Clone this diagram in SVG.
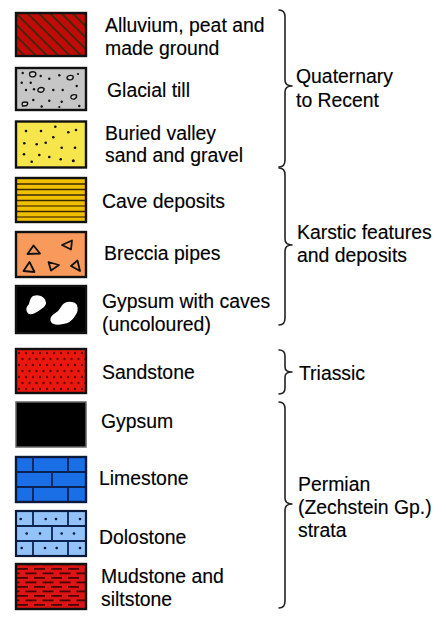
<svg xmlns="http://www.w3.org/2000/svg" width="446" height="618" viewBox="0 0 446 618">
<style>
.t{font-family:"Liberation Sans",Arial,sans-serif;font-size:19.4px;fill:#000;stroke:#000;stroke-width:0.15}
.box{stroke:#111;stroke-width:2.4}
.br{fill:none;stroke:#222;stroke-width:1.6;stroke-linejoin:round;stroke-linecap:round}
.dot{fill:#111}
.peb{fill:#d4d4d4;stroke:#111;stroke-width:1.4}
.tri{fill:none;stroke:#111;stroke-width:1.8;stroke-linejoin:round}
.brick{fill:none;stroke:#0b2350;stroke-width:1.8}
</style>
<defs>
<pattern id="stripes" width="8" height="8" patternUnits="userSpaceOnUse" patternTransform="rotate(-45)">
<line x1="2" y1="0" x2="2" y2="8" stroke="#4a2608" stroke-width="2"/>
</pattern>
<pattern id="sanddots" width="7" height="12" patternUnits="userSpaceOnUse" x="17" y="350">
<circle cx="2" cy="3" r="1.2" fill="#6a0000"/>
<circle cx="5.5" cy="9" r="1.2" fill="#6a0000"/>
</pattern>
<pattern id="mud" width="17" height="9" patternUnits="userSpaceOnUse" x="17" y="566">
<rect x="0" y="2" width="11" height="1.8" fill="#4a0404"/>
<rect x="8.5" y="6.5" width="8.5" height="1.8" fill="#4a0404"/>
<rect x="0" y="6.5" width="2.5" height="1.8" fill="#4a0404"/>
</pattern>
</defs>

<g id="alluvium">
<rect x="16" y="13" width="70" height="43" fill="#c20a08"/>
<rect x="16" y="13" width="70" height="43" fill="url(#stripes)"/>
<rect class="box" x="16" y="13" width="70" height="43" fill="none"/>
<text class="t" x="105" y="32">Alluvium, peat and</text>
<text class="t" x="105" y="55">made ground</text>
</g>

<g id="glacial-till">
<rect class="box" x="16" y="68" width="70" height="42" fill="#c6c6c6"/>
<g class="dot">
<circle cx="22.7" cy="73" r="1.2"/><circle cx="40.7" cy="76" r="1.2"/><circle cx="49.3" cy="78.7" r="1.2"/><circle cx="59.3" cy="75.3" r="1.2"/><circle cx="78" cy="74" r="1.1"/>
<circle cx="21.7" cy="82.7" r="1.2"/><circle cx="30.7" cy="82.7" r="1.2"/><circle cx="26" cy="90" r="1.2"/><circle cx="34" cy="89.3" r="1.2"/><circle cx="53.3" cy="90" r="1.2"/><circle cx="62.7" cy="90" r="1.2"/><circle cx="76.7" cy="86" r="1.2"/>
<circle cx="33.3" cy="100" r="1.2"/><circle cx="41.7" cy="106.5" r="1.2"/><circle cx="49.3" cy="100.7" r="1.2"/><circle cx="61.7" cy="101.7" r="1.2"/><circle cx="59.3" cy="107" r="1.1"/><circle cx="79.3" cy="106" r="1.2"/>
</g>
<path class="peb" d="M30 72.5 q3-1.5 5.5 0 q1 2.5-1 4 q-3 1-4.5-0.5 q-1-2 0-3.5z"/>
<path class="peb" d="M67.5 76.5 q3-2 5.5-0.5 q0.8 2.5-1.5 3.6 q-3 0.8-4.3-0.8 q-0.4-1.5 0.3-2.3z"/>
<path class="peb" d="M38.5 88.5 q3-2 5.5 0 q0.5 2.5-2 3.6 q-3 0.5-4-1 q-0.3-1.6 0.5-2.6z"/>
<path class="peb" d="M71.5 95.5 q3-1.5 5-0.3 q0.6 2.8-2 3.8 q-3 0.6-3.6-1.2 q-0.2-1.4 0.6-2.3z"/>
<path class="peb" d="M22.5 102.5 q3-1 5 0 q0.6 2.5-1.5 3.3 l-3.5 0.2 q-0.8-1.8 0-3.5z"/>
<text class="t" x="107" y="97">Glacial till</text>
</g>

<g id="buried-valley">
<rect class="box" x="16" y="121.5" width="70" height="46" fill="#f6e64c"/>
<g class="dot">
<circle cx="26" cy="131" r="1.3"/><circle cx="41" cy="131" r="1.3"/><circle cx="55.3" cy="126.7" r="1.3"/><circle cx="68.3" cy="132.3" r="1.3"/><circle cx="76" cy="130" r="1.3"/>
<circle cx="24.3" cy="143.3" r="1.3"/><circle cx="36.7" cy="144.3" r="1.3"/><circle cx="45.7" cy="142.7" r="1.3"/><circle cx="53.3" cy="137.3" r="1.3"/><circle cx="61.7" cy="147.7" r="1.3"/><circle cx="75" cy="147.7" r="1.3"/>
<circle cx="24" cy="154.3" r="1.3"/><circle cx="31.7" cy="161.7" r="1.3"/><circle cx="39.3" cy="155" r="1.3"/><circle cx="49.3" cy="157" r="1.3"/><circle cx="60.7" cy="159.3" r="1.3"/><circle cx="73.3" cy="160.7" r="1.5"/>
</g>
<text class="t" x="105" y="140">Buried valley</text>
<text class="t" x="105" y="162">sand and gravel</text>
</g>

<g id="cave-deposits">
<rect x="16" y="178" width="70" height="44" fill="#f0c000"/>
<g stroke="#3a2800" stroke-width="1.3">
<line x1="17" y1="184" x2="85" y2="184"/><line x1="17" y1="189.5" x2="85" y2="189.5"/><line x1="17" y1="195" x2="85" y2="195"/><line x1="17" y1="200.5" x2="85" y2="200.5"/>
<line x1="17" y1="206" x2="85" y2="206" stroke="#6a4a00"/><line x1="17" y1="211.5" x2="85" y2="211.5"/><line x1="17" y1="217" x2="85" y2="217" stroke="#6a4a00"/>
</g>
<rect class="box" x="16" y="178" width="70" height="44" fill="none"/>
<text class="t" x="102" y="208">Cave deposits</text>
</g>

<g id="breccia-pipes">
<rect class="box" x="16" y="232" width="70" height="45" fill="#f79a5c"/>
<path class="tri" d="M27.5 254 L33.5 245.5 L40 253.5 Z"/>
<path class="tri" d="M62 245 L72 240.5 L71 249.5 Z"/>
<path class="tri" d="M23.5 271 L29.5 262 L34.5 272 Z"/>
<path class="tri" d="M48.5 262 L59 265 L51 270.5 Z"/>
<path class="tri" d="M71 266 L77.5 260.5 L80 271 Z"/>
<text class="t" x="104" y="260">Breccia pipes</text>
</g>

<g id="gypsum-caves">
<rect class="box" x="16" y="286" width="70" height="47" fill="#000"/>
<path d="M33 296 q7-2 11 2 q4 5 0 9 q-5 4-9 6 q-6 3-8-1 q-2-4 2-8 q1-6 4-8z" fill="#fff"/>
<path d="M67 302 q7-1 10 3 q2 6-2 11 q-4 7-12 8 q-9 2-12-2 q-2-5 3-8 q5-3 7-7 q2-4 6-5z" fill="#fff"/>
<text class="t" x="102" y="308">Gypsum with caves</text>
<text class="t" x="102" y="331">(uncoloured)</text>
</g>

<g id="sandstone">
<rect x="16" y="349" width="70" height="44" fill="#e8180e"/>
<rect x="16" y="349" width="70" height="44" fill="url(#sanddots)"/>
<rect class="box" x="16" y="349" width="70" height="44" fill="none"/>
<text class="t" x="102" y="379">Sandstone</text>
</g>

<g id="gypsum">
<rect x="16" y="402" width="70" height="45" fill="#000" stroke="#666" stroke-width="1.5"/>
<text class="t" x="101" y="428">Gypsum</text>
</g>

<g id="limestone">
<rect x="16" y="457" width="70" height="45" fill="#1a6ee6"/>
<path class="brick" d="M16 472 H86 M16 487 H86 M33 457 V472 M68 457 V472 M52 472 V487 M33 487 V502 M68 487 V502"/>
<rect x="16" y="457" width="70" height="45" fill="none" stroke="#0b1a3a" stroke-width="2.4"/>
<text class="t" x="99" y="485">Limestone</text>
</g>

<g id="dolostone">
<rect x="16" y="511" width="70" height="45" fill="#92c2f8"/>
<path class="brick" stroke-width="1.5" d="M16 526 H86 M16 541 H86 M33 511 V526 M68 511 V526 M52 526 V541 M33 541 V556 M68 541 V556"/>
<g fill="#0b1a3a">
<circle cx="20.7" cy="519" r="1.3"/><circle cx="45.7" cy="519" r="1.3"/><circle cx="56" cy="519" r="1.3"/><circle cx="80" cy="519" r="1.3"/>
<circle cx="26.7" cy="533.5" r="1.3"/><circle cx="40" cy="533.5" r="1.3"/><circle cx="61.7" cy="533.5" r="1.3"/><circle cx="74" cy="533.5" r="1.3"/>
<circle cx="21.7" cy="548" r="1.3"/><circle cx="45" cy="548" r="1.3"/><circle cx="56.7" cy="548" r="1.3"/><circle cx="80" cy="548" r="1.3"/>
</g>
<rect x="16" y="511" width="70" height="45" fill="none" stroke="#0b1a3a" stroke-width="2.2"/>
<text class="t" x="99" y="544">Dolostone</text>
</g>

<g id="mudstone">
<rect x="16" y="564" width="70" height="45" fill="#dc1414"/>
<rect x="16" y="564" width="70" height="45" fill="url(#mud)"/>
<rect class="box" x="16" y="564" width="70" height="45" fill="none"/>
<text class="t" x="101" y="583">Mudstone and</text>
<text class="t" x="101" y="606">siltstone</text>
</g>

<g id="connectors">
<path class="br" d="M279 10 Q285 10 285 17 L285 80 Q285 86 292 86 Q285 86 285 92 L285 160 Q285 167 279 167"/>
<path class="br" d="M279 168 Q285 168 285 175 L285 239 Q285 245 292 245 Q285 245 285 251 L285 318 Q285 325 279 325"/>
<path class="br" d="M279 350 Q285 350 285 356 L285 367 Q285 372 292 372 Q285 372 285 377 L285 388 Q285 394 279 394"/>
<path class="br" d="M279 402 Q285 402 285 409 L285 498 Q285 504 292 504 Q285 504 285 510 L285 601 Q285 608 279 608"/>
</g>

<g id="group-labels">
<text class="t" x="296" y="83">Quaternary</text>
<text class="t" x="296" y="107">to Recent</text>
<text class="t" x="297" y="239">Karstic features</text>
<text class="t" x="297" y="262">and deposits</text>
<text class="t" x="299" y="380">Triassic</text>
<text class="t" x="298" y="491">Permian</text>
<text class="t" x="298" y="514">(Zechstein Gp.)</text>
<text class="t" x="298" y="537">strata</text>
</g>
</svg>
